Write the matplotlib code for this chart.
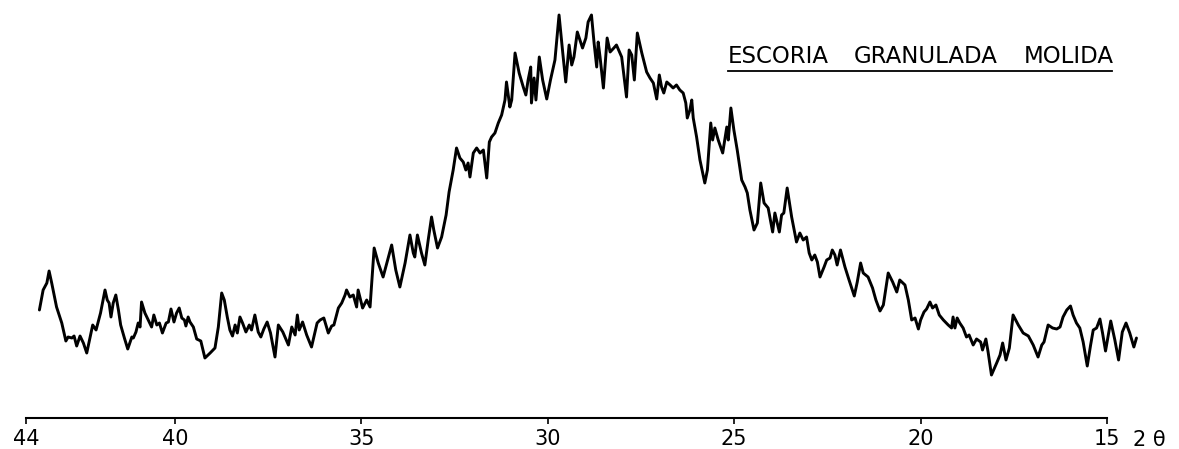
import numpy as np
import matplotlib.pyplot as plt
from matplotlib.lines import Line2D

# diffractogram trace: 2-theta (deg) vs. intensity (arbitrary units)
two_theta = [
    43.64, 43.54, 43.44, 43.38, 43.31, 43.18, 43.04, 42.93, 42.87, 42.77,
    42.71, 42.64, 42.55, 42.46, 42.37, 42.21, 42.12, 42.00, 41.88, 41.82,
    41.77, 41.72, 41.66, 41.59, 41.52, 41.46, 41.36, 41.27, 41.16, 41.12,
    41.05, 40.99, 40.94, 40.90, 40.81, 40.72, 40.63, 40.57, 40.49, 40.42,
    40.34, 40.24, 40.18, 40.11, 40.03, 39.96, 39.89, 39.82, 39.75, 39.71,
    39.65, 39.60, 39.51, 39.42, 39.31, 39.20, 39.06, 38.93, 38.84, 38.75,
    38.68, 38.60, 38.53, 38.46, 38.39, 38.33, 38.26, 38.19, 38.10, 38.01,
    37.95, 37.86, 37.77, 37.70, 37.62, 37.53, 37.44, 37.32, 37.23, 37.11,
    36.96, 36.87, 36.78, 36.72, 36.67, 36.58, 36.47, 36.34, 36.19, 36.11,
    36.01, 35.89, 35.80, 35.74, 35.62, 35.53, 35.44, 35.40, 35.31, 35.22,
    35.13, 35.09, 34.97, 34.86, 34.77, 34.66, 34.55, 34.42, 34.19, 34.08,
    33.97, 33.83, 33.70, 33.61, 33.57, 33.50, 33.39, 33.30, 33.21, 33.12,
    33.06, 32.96, 32.85, 32.73, 32.65, 32.54, 32.45, 32.36, 32.27, 32.20,
    32.14, 32.09, 32.00, 31.91, 31.82, 31.73, 31.64, 31.57, 31.51, 31.42,
    31.33, 31.24, 31.15, 31.11, 31.02, 30.97, 30.88, 30.77, 30.66, 30.59,
    30.53, 30.46, 30.44, 30.37, 30.32, 30.23, 30.14, 30.03, 29.93, 29.81,
    29.70, 29.60, 29.52, 29.43, 29.36, 29.30, 29.21, 29.14, 29.07, 28.98,
    28.92, 28.83, 28.76, 28.69, 28.65, 28.60, 28.51, 28.41, 28.33, 28.23,
    28.16, 28.02, 27.89, 27.82, 27.75, 27.68, 27.60, 27.48, 27.35, 27.26,
    27.17, 27.08, 27.01, 26.95, 26.89, 26.81, 26.72, 26.64, 26.55, 26.46,
    26.37, 26.30, 26.26, 26.19, 26.14, 26.10, 26.01, 25.92, 25.88, 25.79,
    25.72, 25.63, 25.58, 25.52, 25.43, 25.31, 25.20, 25.16, 25.09, 25.01,
    24.92, 24.80, 24.71, 24.65, 24.58, 24.47, 24.38, 24.29, 24.20, 24.09,
    23.97, 23.91, 23.79, 23.73, 23.67, 23.58, 23.46, 23.33, 23.24, 23.15,
    23.06, 22.99, 22.92, 22.84, 22.77, 22.70, 22.59, 22.52, 22.43, 22.37,
    22.30, 22.24, 22.15, 22.03, 21.92, 21.78, 21.70, 21.61, 21.54, 21.41,
    21.29, 21.20, 21.09, 21.00, 20.87, 20.75, 20.64, 20.56, 20.42, 20.33,
    20.24, 20.15, 20.06, 20.00, 19.91, 19.84, 19.75, 19.68, 19.59, 19.50,
    19.39, 19.26, 19.17, 19.13, 19.08, 19.02, 18.95, 18.86, 18.77, 18.70,
    18.59, 18.50, 18.39, 18.34, 18.25, 18.19, 18.10, 17.96, 17.87, 17.80,
    17.71, 17.62, 17.52, 17.38, 17.25, 17.11, 16.98, 16.85, 16.75, 16.69,
    16.58, 16.46, 16.35, 16.26, 16.18, 16.08, 15.98, 15.91, 15.82, 15.73,
    15.64, 15.53, 15.44, 15.37, 15.28, 15.19, 15.12, 15.04, 14.90, 14.79,
    14.69, 14.59, 14.49, 14.39, 14.28, 14.21,
]
intensity = [
    108, 128, 135, 147, 135, 111, 95, 77, 81, 80,
    82, 72, 82, 75, 65, 93, 88, 105, 128, 118,
    115, 101, 115, 123, 108, 93, 80, 69, 81, 80,
    86, 95, 91, 116, 105, 98, 91, 103, 93, 95,
    85, 95, 96, 109, 96, 105, 110, 100, 98, 92,
    101, 96, 91, 79, 77, 60, 65, 70, 91, 125,
    118, 101, 88, 82, 93, 85, 101, 95, 86, 93,
    88, 103, 86, 81, 89, 96, 85, 61, 93, 86,
    73, 91, 83, 103, 88, 96, 83, 71, 95, 98,
    100, 85, 92, 93, 110, 115, 123, 128, 121, 123,
    111, 128, 110, 118, 111, 170, 155, 141, 173, 148,
    131, 155, 183, 165, 161, 183, 165, 153, 178, 201,
    188, 170, 181, 203, 226, 248, 270, 260, 256, 248,
    255, 241, 265, 270, 265, 268, 240, 276, 281, 285,
    295, 303, 318, 336, 311, 318, 365, 345, 331, 323,
    338, 351, 315, 340, 318, 361, 338, 319, 338, 358,
    403, 365, 336, 373, 353, 361, 386, 378, 370, 380,
    396, 403, 375, 351, 376, 361, 330, 380, 366, 370,
    373, 361, 321, 368, 363, 338, 385, 365, 346, 340,
    335, 319, 343, 331, 325, 336, 333, 330, 333, 328,
    325, 315, 300, 308, 318, 300, 281, 258, 251, 235,
    248, 295, 278, 290, 278, 265, 291, 278, 310, 288,
    268, 238, 231, 225, 208, 188, 195, 235, 215, 210,
    186, 205, 186, 203, 205, 230, 201, 176, 185, 178,
    181, 165, 158, 163, 156, 141, 151, 158, 160, 168,
    163, 153, 168, 151, 138, 122, 136, 155, 145, 141,
    130, 118, 107, 113, 145, 136, 126, 138, 133, 118,
    98, 100, 89, 98, 106, 109, 116, 110, 113, 103,
    98, 93, 90, 101, 90, 100, 95, 90, 81, 83,
    73, 79, 76, 68, 79, 66, 43, 55, 63, 75,
    58, 70, 103, 93, 85, 82, 73, 61, 73, 76,
    93, 90, 89, 91, 101, 108, 112, 103, 95, 90,
    76, 52, 73, 88, 90, 99, 85, 67, 97, 78,
    58, 86, 95, 85, 71, 80,
]

tick_values = [44, 40, 35, 30, 25, 20, 15]
title_words = ['ESCORIA', 'GRANULADA', 'MOLIDA']
title_x = [728, 854, 1024]  # left edge of each word, px

W, H = 1179, 449
fig = plt.figure(figsize=(W / 100, H / 100), dpi=100)
ax = fig.add_axes([0, 0, 1, 1])

ax.plot(two_theta, intensity, color='black', lw=2.1,
        solid_joinstyle='round', solid_capstyle='round')

ax.set_xlim(44.697, 13.069)
ax.set_ylim(-31, 418)
for s in ['top', 'left', 'right']:
    ax.spines[s].set_visible(False)
ax.spines['bottom'].set_position(('data', 0))
ax.spines['bottom'].set_bounds(15, 44)
ax.spines['bottom'].set_linewidth(1.5)
ax.set_xticks(tick_values)
ax.set_yticks([])
ax.tick_params(axis='x', direction='out', length=4, width=1.2, pad=4,
               labelsize=15)
ax.patch.set_visible(False)

# axis variable at the right end
fig.text(1133 / W, 1 - 446 / H, '2 θ', fontsize=15, va='baseline', ha='left')

# underlined sample name
for word, x in zip(title_words, title_x):
    fig.text(x / W, 1 - 63 / H, word, fontsize=16.5, va='baseline', ha='left')
fig.add_artist(Line2D([728 / W, 1112 / W], [1 - 70.7 / H, 1 - 70.7 / H],
                      transform=fig.transFigure, color='black', lw=1.3))

fig.savefig('out.png', dpi=100)
